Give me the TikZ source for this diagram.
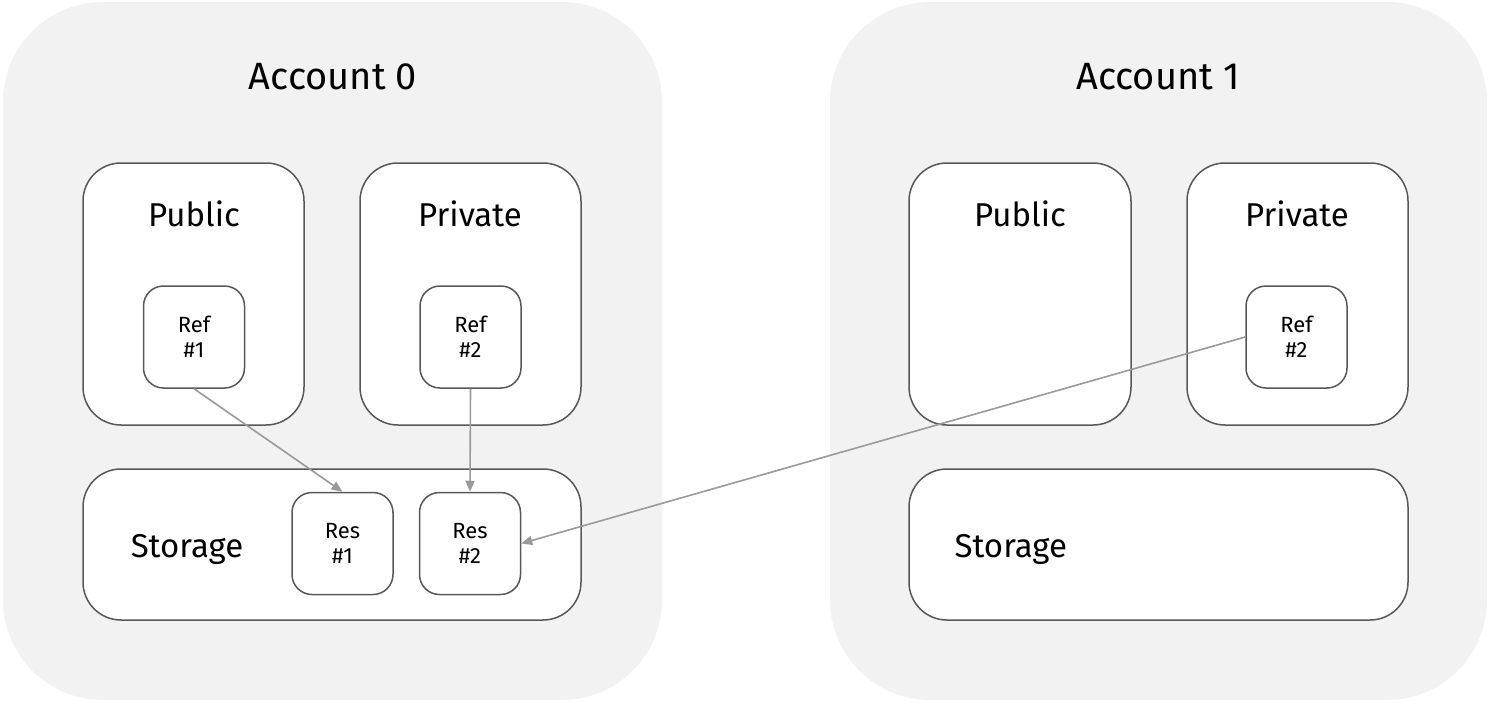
\documentclass[tikz,border=0pt]{standalone}
\usepackage{fontspec}
\setmainfont{Fira Sans}
\usetikzlibrary{arrows.meta}
\definecolor{bgacc}{HTML}{F2F2F2}
\definecolor{edge}{HTML}{585858}
\definecolor{arr}{HTML}{9A9A9A}
\tikzset{
  account/.style={fill=bgacc, draw=none, rounded corners=100pt, inner sep=0pt},
  section/.style={fill=white, draw=edge, line width=1.5pt, rounded corners=38pt, inner sep=0pt},
  item/.style={fill=white, draw=edge, line width=1.5pt, rounded corners=20pt, inner sep=0pt,
     minimum width=101pt, minimum height=102pt, align=center, font=\fontsize{22}{25}\selectfont},
  acclabel/.style={font=\fontsize{38}{44}\selectfont},
  seclabel/.style={font=\fontsize{33}{38}\selectfont},
  link/.style={draw=arr, line width=1.6pt, -{Triangle[length=11pt,width=9pt]}}
}
\begin{document}
\begin{tikzpicture}[x=1pt,y=-1pt]
\useasboundingbox (0,0) rectangle (1489,702);
% accounts
\node[account, minimum width=659pt, minimum height=698pt] (acc0) at (332.5,351) {};
\node[account, minimum width=657pt, minimum height=698pt] (acc1) at (1158.5,351) {};
\node[acclabel] (acc0l) at (333,77) {Account 0};
\node[acclabel] (acc1l) at (1158,77) {Account 1};
% account 0 sections
\node[section, minimum width=221pt, minimum height=262pt] (pub0) at (193.5,294) {};
\node[section, minimum width=221pt, minimum height=262pt] (priv0) at (470.5,294) {};
\node[section, minimum width=498pt, minimum height=151pt] (sto0) at (332,544.5) {};
\node[seclabel] (pub0l) at (194,214) {Public};
\node[seclabel] (priv0l) at (470,214) {Private};
\node[seclabel] (sto0l) at (187,549) {Storage};
% account 1 sections
\node[section, minimum width=222pt, minimum height=262pt] (pub1) at (1020,294) {};
\node[section, minimum width=221pt, minimum height=262pt] (priv1) at (1297.5,294) {};
\node[section, minimum width=499pt, minimum height=151pt] (sto1) at (1158.5,544.5) {};
\node[seclabel] (pub1l) at (1020,214) {Public};
\node[seclabel] (priv1l) at (1297,214) {Private};
\node[seclabel, anchor=west] (sto1l) at (951,549) {Storage};
% items
\node[item] (ref1) at (194,337) {Ref\\\#1};
\node[item] (ref2) at (470.5,337) {Ref\\\#2};
\node[item] (res1) at (342.5,543.5) {Res\\\#1};
\node[item] (res2) at (470,543.5) {Res\\\#2};
\node[item] (ref2b) at (1296.5,337) {Ref\\\#2};
% links
\draw[link] (ref1.south) -- (res1.north);
\draw[link] (ref2.south) -- (res2.north);
\draw[link] (ref2b.west) -- (res2.east);
\end{tikzpicture}
\end{document}
